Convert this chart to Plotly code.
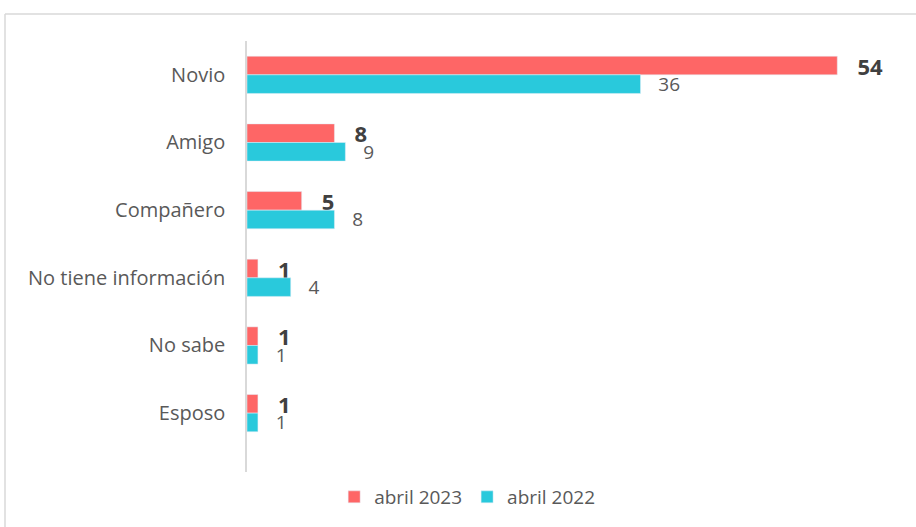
import plotly.graph_objects as go

categories = ["Novio", "Amigo", "Compañero", "No tiene información", "No sabe", "Esposo"]
values_2023 = [54, 8, 5, 1, 1, 1]
values_2022 = [36, 9, 8, 4, 1, 1]
series_names = ["abril 2023", "abril 2022"]

RED = "#fe6666"
CYAN = "#29c9dc"

# plot area in page pixels
W, H = 916, 527
L, R, T, B = 247, 35, 41, 55
plot_w = W - L - R
plot_h = H - T - B


def px_to_paper_x(px):
    return (px - L) / plot_w


def px_to_paper_y(py):
    return (H - B - py) / plot_h


fig = go.Figure()

fig.add_trace(
    go.Bar(
        y=categories,
        x=values_2023,
        name=series_names[0],
        orientation="h",
        marker={"color": RED},
        texttemplate="\u00a0\u00a0\u00a0%{x}",
        textposition="outside",
        constraintext="none",
        textfont={"family": "Open Sans", "size": 22, "color": "#404040", "weight": "bold"},
        cliponaxis=False,
    )
)

fig.add_trace(
    go.Bar(
        y=categories,
        x=values_2022,
        name=series_names[1],
        orientation="h",
        marker={"color": CYAN},
        texttemplate="\u00a0\u00a0\u00a0%{x}",
        textposition="outside",
        constraintext="none",
        textfont={"family": "Open Sans", "size": 19, "color": "#595959"},
        cliponaxis=False,
    )
)

# light frame round the chart (top and left edges visible)
frame = {"color": "#d9d9d9", "width": 1.5}
fig.add_shape(
    type="line", xref="paper", yref="paper",
    x0=px_to_paper_x(5), x1=px_to_paper_x(W + 10),
    y0=px_to_paper_y(14), y1=px_to_paper_y(14),
    line=frame,
)
fig.add_shape(
    type="line", xref="paper", yref="paper",
    x0=px_to_paper_x(5), x1=px_to_paper_x(5),
    y0=px_to_paper_y(14), y1=px_to_paper_y(H + 10),
    line=frame,
)

fig.update_layout(
    width=W,
    height=H,
    margin={"l": L, "r": R, "t": T, "b": B, "autoexpand": False},
    paper_bgcolor="white",
    plot_bgcolor="white",
    barmode="group",
    bargap=0.45,
    bargroupgap=0,
    showlegend=True,
    legend={
        "orientation": "h",
        "xref": "container",
        "yref": "container",
        "x": 0.51,
        "xanchor": "center",
        "y": 1 - 497 / H,
        "yanchor": "middle",
        "font": {"family": "Open Sans", "size": 19, "color": "#595959"},
        "itemwidth": 30,
        "traceorder": "normal",
    },
    font={"family": "Open Sans", "color": "#595959"},
)

fig.update_xaxes(
    range=[0, 58],
    visible=False,
    showgrid=False,
    zeroline=False,
)

fig.update_yaxes(
    type="category",
    categoryorder="array",
    categoryarray=categories,
    range=[5.87, -0.5],
    showline=True,
    linecolor="#d9d9d9",
    linewidth=1.5,
    showgrid=False,
    ticks="",
    ticklabelstandoff=16,
    tickfont={"family": "Open Sans", "size": 20, "color": "#595959"},
)

# page body has a default margin; remove it so the figure sits at the window's corner
fig.write_html(
    "out.html",
    config={"displayModeBar": False},
    post_script="document.body.style.margin='0';",
)
